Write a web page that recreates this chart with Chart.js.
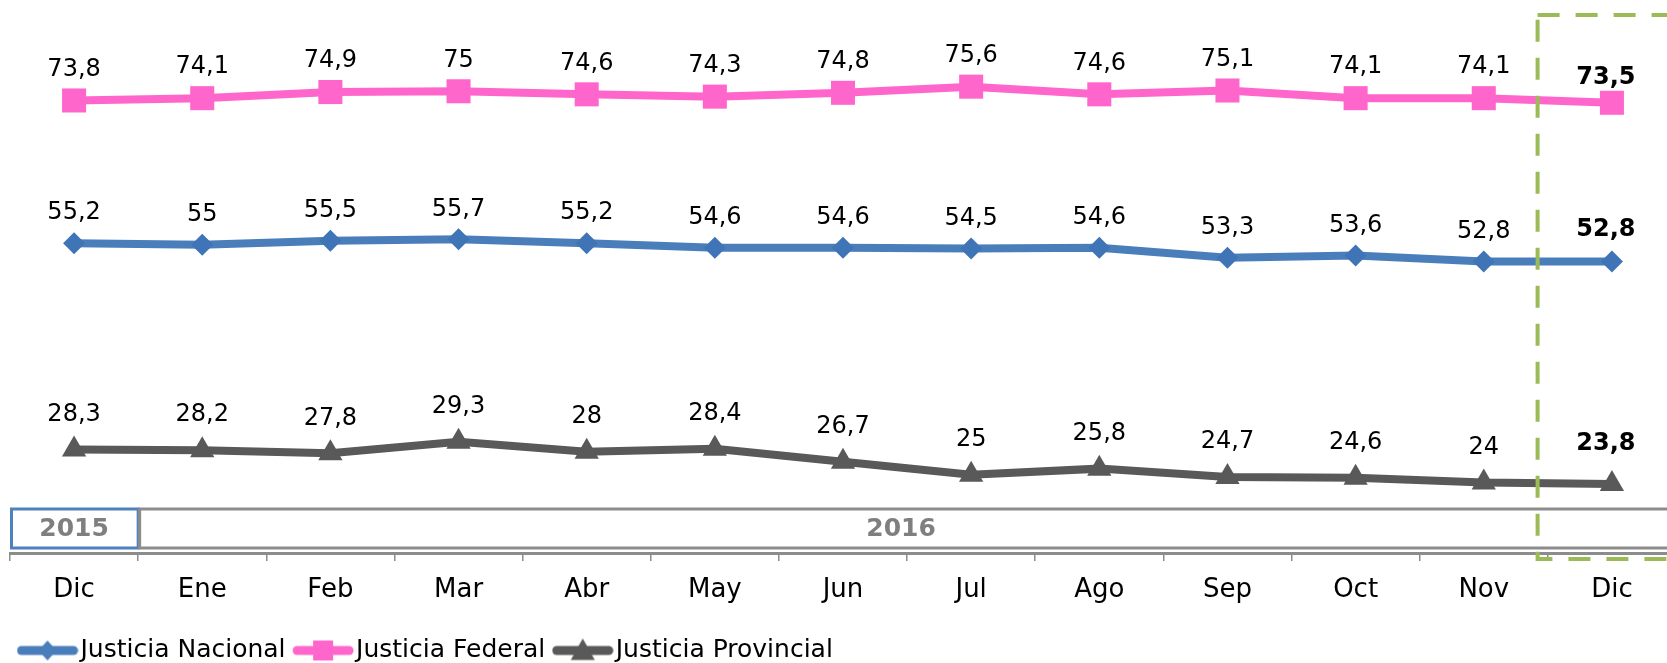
<!DOCTYPE html>
<html>
<head>
<meta charset="utf-8">
<script src="https://cdn.jsdelivr.net/npm/chart.js@4"></script>
<style>
  html, body { margin: 0; padding: 0; background: #fff; overflow: hidden; }
  #wrap { width: 1690px; height: 663px; }
</style>
</head>
<body>
<div id="wrap"><canvas id="chart" width="1690" height="663"></canvas></div>
<script>
// ---------- Data ----------
const months = ["Dic", "Ene", "Feb", "Mar", "Abr", "May", "Jun", "Jul", "Ago", "Sep", "Oct", "Nov", "Dic"];
const nacional = [55.2, 55, 55.5, 55.7, 55.2, 54.6, 54.6, 54.5, 54.6, 53.3, 53.6, 52.8, 52.8];
const federal = [73.8, 74.1, 74.9, 75, 74.6, 74.3, 74.8, 75.6, 74.6, 75.1, 74.1, 74.1, 73.5];
const provincial = [28.3, 28.2, 27.8, 29.3, 28, 28.4, 26.7, 25, 25.8, 24.7, 24.6, 24, 23.8];
const yearLabels = ["2015", "2016"];
const yearStarts = [0, 1];
const yearEnds = [0, 12];

const FONT = "'DejaVu Sans', sans-serif";
const BLUE = "#4A7EBB", PINK = "#FF66CC", GREY = "#595959";

// ---------- Helpers ----------
function legendSymbol(color, style, r) {
  const c = document.createElement("canvas");
  c.width = 62; c.height = 28;
  const g = c.getContext("2d");
  g.strokeStyle = color; g.lineWidth = 9; g.lineCap = "round";
  g.beginPath(); g.moveTo(5, 14); g.lineTo(57, 14); g.stroke();
  g.fillStyle = color;
  g.beginPath();
  if (style === "rect") g.rect(31 - r, 14 - r, 2 * r, 2 * r);
  else if (style === "rectRot") { g.moveTo(31 - r, 14); g.lineTo(31, 14 - r - 1); g.lineTo(31 + r, 14); g.lineTo(31, 14 + r + 1); }
  else { g.moveTo(31, 14 - r); g.lineTo(31 + r, 14 + r * 0.8); g.lineTo(31 - r, 14 + r * 0.8); }
  g.closePath(); g.fill();
  return c;
}

// ---------- Plugins ----------
const valueLabels = {
  id: "valueLabels",
  afterDatasetsDraw(chart) {
    const ctx = chart.ctx;
    ctx.save();
    ctx.fillStyle = "#000";
    ctx.textAlign = "center";
    ctx.textBaseline = "middle";
    chart.data.datasets.forEach((ds, i) => {
      chart.getDatasetMeta(i).data.forEach((pt, j) => {
        const last = j === ds.data.length - 1;
        ctx.font = (last ? "bold " : "") + "24px " + FONT;
        const off = last ? ds.labelOffsetLast : ds.labelOffset;
        ctx.fillText(String(ds.data[j]).replace(".", ","), pt.x - (last ? 6 : 0), pt.y - off);
      });
    });
    ctx.restore();
  },
};

const yearBand = {
  id: "yearBand",
  beforeDatasetsDraw(chart) {
    const { ctx, chartArea, scales: { x } } = chart;
    const half = (x.getPixelForValue(1) - x.getPixelForValue(0)) / 2;
    const top = chartArea.bottom - 44, bottom = chartArea.bottom - 5;
    ctx.save();
    ctx.lineWidth = 3;
    ["#4F81BD", "#8C8C8C"].forEach((col, i) => {
      const l = x.getPixelForValue(yearStarts[i]) - half;
      const r = x.getPixelForValue(yearEnds[i]) + half;
      ctx.strokeStyle = col;
      ctx.strokeRect(l + 1.5, top, r - l - 1.5, bottom - top);
      ctx.fillStyle = "#7F7F7F";
      ctx.font = "bold 25px " + FONT;
      ctx.textAlign = "center";
      ctx.textBaseline = "middle";
      ctx.fillText(yearLabels[i], (l + Math.min(r, chart.width - 14)) / 2 + (i ? -6 : 0), (top + bottom) / 2 + 1);
    });
    ctx.restore();
  },
};

const highlight = {
  id: "highlight",
  afterDraw(chart) {
    const { ctx, chartArea, scales: { x } } = chart;
    const step = x.getPixelForValue(12) - x.getPixelForValue(11);
    const l = x.getPixelForValue(12) - step * 0.58;
    ctx.save();
    ctx.strokeStyle = "#9BBB59";
    ctx.lineWidth = 4;
    ctx.setLineDash([22, 16]);
    ctx.strokeRect(l, 15, chart.width + 20 - l, chartArea.bottom + 6 - 15);
    ctx.restore();
  },
};

// ---------- Chart ----------
Chart.defaults.font.family = FONT;
Chart.defaults.color = "#000";

new Chart(document.getElementById("chart"), {
  type: "line",
  data: {
    labels: months,
    datasets: [
      { label: "Justicia Nacional", data: nacional, borderColor: BLUE, backgroundColor: "#3F74B6",
        pointStyle: "rectRot", pointRadius: 11, borderWidth: 8, labelOffset: 30, labelOffsetLast: 32,
        symbol: legendSymbol(BLUE, "rectRot", 9) },
      { label: "Justicia Federal", data: federal, borderColor: PINK, backgroundColor: PINK,
        pointStyle: "rect", pointRadius: 17, borderWidth: 8, labelOffset: 31, labelOffsetLast: 25.5,
        symbol: legendSymbol(PINK, "rect", 10) },
      { label: "Justicia Provincial", data: provincial, borderColor: GREY, backgroundColor: GREY,
        pointStyle: "triangle", pointRadius: 14, borderWidth: 8, labelOffset: 35, labelOffsetLast: 40,
        symbol: legendSymbol(GREY, "triangle", 12) },
    ].map((d) => ({ ...d, pointBorderWidth: 0, pointHoverRadius: d.pointRadius, tension: 0, fill: false })),
  },
  options: {
    responsive: false,
    animation: false,
    layout: { autoPadding: false, padding: { left: 10, right: 14, top: 0, bottom: 0 } },
    plugins: {
      tooltip: { enabled: false },
      legend: {
        position: "bottom",
        align: "start",
        maxHeight: 42,
        labels: {
          usePointStyle: true,
          pointStyleWidth: 41,
          padding: 17,
          font: { size: 25, family: FONT },
          color: "#000",
          generateLabels(chart) {
            return Chart.defaults.plugins.legend.labels.generateLabels(chart).map((it) => ({
              ...it, pointStyle: chart.data.datasets[it.datasetIndex].symbol,
            }));
          },
        },
      },
    },
    scales: {
      x: {
        offset: true,
        grid: { offset: true, drawOnChartArea: false, drawTicks: true, tickLength: 8, color: "#8C8C8C", lineWidth: 1.5 },
        border: { display: true, color: "#8C8C8C", width: 3 },
        ticks: { font: { size: 26, family: FONT }, color: "#000", padding: 14, maxRotation: 0, autoSkip: false },
        afterFit(scale) { scale.height = 68; },
      },
      y: { display: false, min: 14.8, max: 86.9 },
    },
  },
  plugins: [yearBand, valueLabels, highlight],
});
</script>
</body>
</html>
